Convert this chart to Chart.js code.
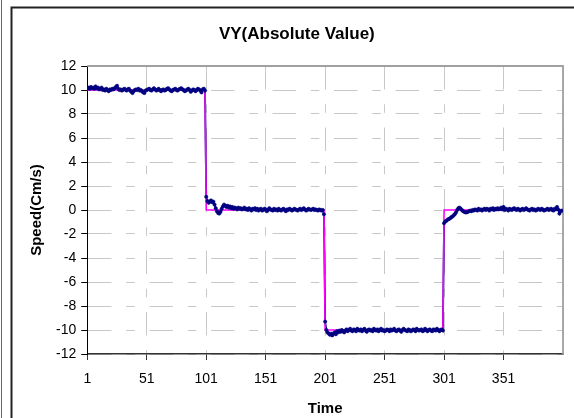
<!DOCTYPE html>
<html><head><meta charset="utf-8">
<script src="https://cdn.jsdelivr.net/npm/chart.js@4/dist/chart.umd.min.js"></script>
<style>html,body{margin:0;padding:0;background:#fff;} canvas{display:block;}</style>
</head><body>
<canvas id="c" width="574" height="418"></canvas>
<script>
const chartTitle = 'VY(Absolute Value)';
const xAxisTitle = 'Time';
const yAxisTitle = 'Speed(Cm/s)';
const xTickLabels = [1, 51, 101, 151, 201, 251, 301, 351];
const xAxisEnd = 401;
const yMin = -12, yMax = 12, yStep = 2;

// reference (target) step signal: corner points
const targetTime  = [1, 100, 101, 200, 201, 300, 301, 400];
const targetSpeed = [10, 10, 0, 0, -10, -10, 0, 0];

// measured speed, samples 1-100
const speed1 = [
10.15,10.2,10.1,10.25,10.15,10.2,10.1,10.3,10.15,10.2,
10.05,10.1,10.2,10.0,10.05,9.95,10.1,10.0,9.9,10.05,
10.0,10.1,10.05,10.15,10.25,10.35,10.1,10.0,10.05,9.95,
10.0,10.1,10.05,9.95,10.05,10.1,9.95,9.85,9.75,9.9,
10.0,10.05,10.0,10.1,9.95,10.0,9.9,9.8,9.75,9.95,
10.0,10.05,10.1,10.0,9.95,10.05,10.15,10.05,9.95,10.0,
10.1,10.0,9.9,10.0,10.05,9.95,10.0,10.1,10.15,10.05,
9.95,9.9,10.0,10.05,10.1,10.0,9.95,10.05,10.1,10.15,
10.05,10.0,9.9,9.95,10.05,10.1,10.0,9.85,9.95,10.05,
10.0,9.9,10.0,10.1,10.05,9.95,9.8,10.05,10.1,9.95];
// samples 101-200
const speed2 = [
1.1,0.75,0.6,0.7,0.8,0.65,0.7,0.45,0.15,-0.1,
-0.25,-0.3,-0.15,0.1,0.3,0.45,0.35,0.25,0.35,0.2,
0.3,0.15,0.25,0.1,0.2,0.15,0.05,0.2,0.1,0.15,
0.05,0.1,0.2,0.05,0.1,0.0,0.15,0.05,-0.05,0.1,
0.05,0.15,0.0,0.1,-0.05,0.05,0.1,-0.05,0.0,0.1,
0.05,-0.1,0.0,0.15,0.05,0.0,-0.05,0.1,0.0,0.05,
-0.05,0.1,0.0,-0.05,0.05,0.1,0.0,-0.1,0.05,0.0,
0.1,0.05,-0.05,0.0,0.1,0.05,0.0,-0.05,0.05,0.1,
0.0,0.05,0.15,0.05,-0.05,0.0,0.1,0.05,0.0,0.05,
0.1,0.0,0.05,0.0,-0.05,0.05,0.0,-0.05,0.0,-0.35];
// samples 201-300
const speed3 = [
-9.3,-10.0,-10.2,-10.3,-10.4,-10.3,-10.45,-10.3,-10.2,-10.35,
-10.1,-10.2,-10.05,-10.15,-10.0,-10.1,-10.2,-10.05,-9.95,-10.1,
-10.0,-9.9,-10.05,-10.1,-9.95,-10.0,-10.1,-9.9,-10.0,-10.05,
-9.95,-10.1,-10.0,-9.9,-10.05,-10.15,-10.0,-9.95,-10.05,-10.0,
-10.1,-9.9,-10.0,-10.05,-9.95,-10.1,-10.0,-9.9,-10.05,-10.0,
-10.1,-10.05,-9.95,-10.0,-10.1,-9.95,-10.05,-10.0,-9.9,-10.05,
-10.1,-10.0,-9.95,-10.05,-10.15,-10.0,-9.9,-10.0,-10.05,-10.1,
-9.95,-10.0,-10.1,-10.05,-9.95,-10.0,-10.1,-9.9,-10.0,-10.05,
-10.0,-9.95,-10.1,-10.05,-9.9,-10.0,-10.1,-10.0,-9.95,-10.05,
-10.1,-9.95,-10.0,-10.05,-9.9,-10.0,-10.1,-10.0,-9.95,-10.05];
// samples 301-400
const speed4 = [
-1.1,-0.95,-0.9,-0.8,-0.75,-0.7,-0.6,-0.55,-0.45,-0.35,
-0.2,0.0,0.15,0.2,0.1,0.0,-0.1,-0.15,-0.2,-0.2,
-0.15,-0.1,-0.05,-0.1,0.0,-0.05,0.05,0.0,-0.05,0.1,
0.0,0.05,-0.05,0.05,0.1,0.0,0.1,0.05,-0.05,0.1,
0.05,0.15,0.0,0.1,0.05,0.15,0.05,0.1,0.2,0.05,
0.25,0.0,0.1,0.05,-0.05,0.1,0.05,0.0,0.1,0.15,
0.05,0.0,0.1,0.05,-0.05,0.05,0.1,0.0,0.05,0.15,
0.05,0.0,-0.05,0.05,0.1,0.0,0.05,-0.05,0.0,0.1,
0.05,0.0,0.1,0.05,-0.05,0.0,0.05,0.1,0.0,0.05,
0.1,0.0,-0.05,0.1,0.05,0.25,0.05,-0.3,-0.1,-0.05];

const measuredSpeed = [].concat(speed1, speed2, speed3, speed4);
const time = measuredSpeed.map((_, i) => i + 1);

const measuredPoints = time.map((t, i) => ({x: t, y: measuredSpeed[i]}));
const targetPoints = targetTime.map((t, i) => ({x: t, y: targetSpeed[i]}));

const FONT = "'Liberation Sans', Arial, sans-serif";
const GRID_DASH = [23.5, 14.8, 8.5, 14.7];

const framePlugin = {
  id: 'frame',
  beforeDatasetsDraw(chart) {
    const {ctx, chartArea: a} = chart;
    ctx.save();
    ctx.strokeStyle = '#a0a0a0';
    ctx.lineWidth = 1.8;
    ctx.beginPath();
    ctx.moveTo(a.left, a.top);
    ctx.lineTo(a.right, a.top);
    ctx.lineTo(a.right, a.bottom);
    ctx.stroke();
    ctx.restore();
  },
  afterDraw(chart) {
    const {ctx, width, height} = chart;
    ctx.save();
    ctx.strokeStyle = '#222';
    ctx.lineWidth = 2;
    ctx.beginPath();
    ctx.moveTo(11.5, height);
    ctx.lineTo(11.5, 7.5);
    ctx.lineTo(width, 7.5);
    ctx.stroke();
    ctx.strokeStyle = '#666';
    ctx.lineWidth = 1;
    ctx.beginPath();
    ctx.moveTo(1.5, 0);
    ctx.lineTo(1.5, height);
    ctx.stroke();
    ctx.restore();
  }
};

new Chart(document.getElementById('c'), {
  type: 'line',
  data: {
    datasets: [
      { label: 'measured markers', data: measuredPoints, showLine: false,
        pointRadius: 1.7, pointHoverRadius: 0, pointBackgroundColor: '#000080',
        pointBorderColor: '#000080', pointBorderWidth: 0.5 },
      { label: 'target', data: targetPoints, borderColor: '#ff00ff',
        borderWidth: 1.6, pointRadius: 0, tension: 0, fill: false },
      { label: 'measured', data: measuredPoints, borderColor: '#000080',
        borderWidth: 1.8, pointRadius: 0, tension: 0, fill: false }
    ]
  },
  options: {
    responsive: false,
    animation: false,
    devicePixelRatio: 1,
    events: [],
    layout: { padding: { left: 26, right: 6.3, top: 0, bottom: 0 } },
    plugins: {
      legend: { display: false },
      tooltip: { enabled: false },
      title: {
        display: true, text: chartTitle, color: '#000',
        font: { family: FONT, size: 17, weight: 'bold' },
        padding: { top: 24.3, bottom: 21.3 }
      }
    },
    scales: {
      x: {
        type: 'linear', min: xTickLabels[0], max: xAxisEnd,
        afterBuildTicks(axis) {
          axis.ticks = xTickLabels.concat([xAxisEnd]).map(v => ({ value: v }));
        },
        afterFit(scale) { scale.height = 64; },
        ticks: {
          autoSkip: false, maxRotation: 0, color: '#000', padding: 11,
          font: { family: FONT, size: 14 },
          callback: (v) => xTickLabels.includes(v) ? String(v) : ''
        },
        grid: {
          color: '#c8c8c8', lineWidth: 1, drawTicks: true, tickLength: 6,
          tickColor: (ctx) => (ctx.tick && ctx.tick.value === xAxisEnd) ? 'rgba(0,0,0,0)' : '#333',
          tickWidth: 1
        },
        border: { display: true, color: '#333', width: 1.5, dash: GRID_DASH, dashOffset: 0 },
        title: {
          display: true, text: xAxisTitle, color: '#000',
          font: { family: FONT, size: 15, weight: 'bold' },
          padding: { top: 0, bottom: 0.5 }
        }
      },
      y: {
        min: yMin, max: yMax,
        afterFit(scale) { scale.width = 61.3; },
        ticks: {
          stepSize: yStep, color: '#000', padding: 5,
          font: { family: FONT, size: 14 }
        },
        grid: {
          color: '#c8c8c8', lineWidth: 1, drawTicks: true, tickLength: 6,
          tickColor: '#000', tickWidth: 1
        },
        border: { display: true, color: '#000', width: 1, dash: GRID_DASH, dashOffset: 0 },
        title: {
          display: true, text: yAxisTitle, color: '#000',
          font: { family: FONT, size: 15, weight: 'bold' },
          padding: { top: 2, bottom: 0 }
        }
      }
    }
  },
  plugins: [framePlugin]
});
</script>
</body></html>
